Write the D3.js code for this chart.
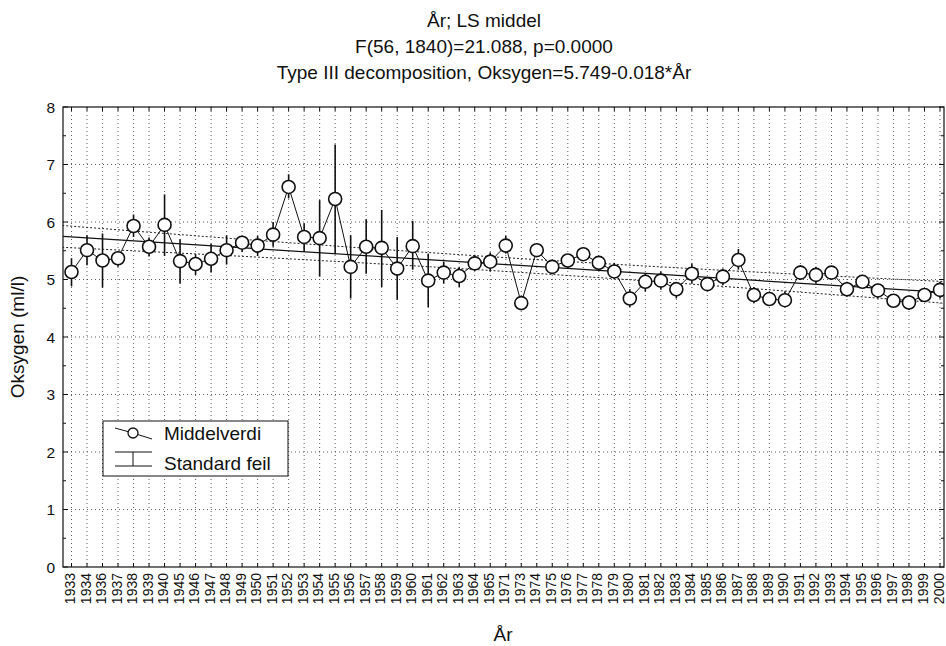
<!DOCTYPE html>
<html><head><meta charset="utf-8">
<script src="https://cdn.jsdelivr.net/npm/d3@7"></script>
<style>body{margin:0;background:#fff}svg{display:block;font-family:"Liberation Sans",Arial,sans-serif}</style>
</head><body><svg id="c" width="946" height="646"></svg>
<script>
const years = ["1933","1934","1936","1937","1938","1939","1940","1945","1946","1947","1948","1949","1950","1951","1952","1953","1954","1955","1956","1957","1958","1959","1960","1961","1962","1963","1964","1965","1971","1973","1974","1975","1976","1977","1978","1979","1980","1981","1982","1983","1984","1985","1986","1987","1988","1989","1990","1991","1992","1993","1994","1995","1996","1997","1998","1999","2000"];
const means = [5.13,5.51,5.33,5.37,5.93,5.57,5.95,5.32,5.27,5.36,5.51,5.64,5.59,5.78,6.61,5.74,5.72,6.40,5.22,5.57,5.55,5.19,5.58,4.98,5.12,5.06,5.28,5.31,5.59,4.59,5.51,5.22,5.33,5.44,5.29,5.14,4.67,4.96,4.98,4.83,5.10,4.92,5.05,5.34,4.73,4.66,4.64,5.12,5.08,5.12,4.83,4.96,4.81,4.63,4.60,4.73,4.82];
const errUpper = [5.37,5.77,5.80,5.48,6.13,5.73,6.48,5.70,5.44,5.62,5.77,5.73,5.76,6.00,6.83,5.98,6.38,7.35,5.77,6.05,6.21,5.74,6.02,5.45,5.31,5.22,5.43,5.47,5.76,4.67,5.60,5.31,5.43,5.53,5.39,5.29,4.83,5.11,5.14,4.96,5.28,5.04,5.19,5.53,4.87,4.77,4.79,5.25,5.22,5.22,4.96,5.08,4.90,4.73,4.70,4.85,4.96];
const errLower = [4.88,5.25,4.86,5.22,5.74,5.40,5.41,4.93,5.08,5.12,5.26,5.48,5.41,5.57,6.41,5.48,5.05,5.44,4.67,5.10,4.87,4.65,5.17,4.52,4.93,4.87,5.15,5.14,5.45,4.48,5.43,5.11,5.19,5.34,5.19,5.05,4.52,4.79,4.82,4.67,4.93,4.81,4.90,5.17,4.59,4.54,4.52,4.99,4.93,5.00,4.70,4.85,4.67,4.52,4.47,4.61,4.67];
// regression line and confidence band, read at a few category positions (index)
const bandIndex = [-0.6, 14, 28, 42, 56.6];
const bandFit   = [5.75, 5.50, 5.26, 5.02, 4.77];
const bandUpper = [5.94, 5.64, 5.38, 5.16, 4.96];
const bandLower = [5.56, 5.36, 5.14, 4.88, 4.58];
const yTicks = [0,1,2,3,4,5,6,7,8];
const titleLines = ["År; LS middel","F(56, 1840)=21.088, p=0.0000","Type III decomposition, Oksygen=5.749-0.018*År"];

const svg = d3.select("#c");
const L = 63, R = 944, T = 107, B = 567;
const x = d3.scalePoint().domain(years).range([71.5, 940]);
const xi = d3.scaleLinear().domain([0, years.length-1]).range([71.5, 940]);
const y = d3.scaleLinear().domain([0, 8]).range([B, T]);

// titles
svg.append("g").selectAll("text").data(titleLines).join("text")
  .attr("x", 484).attr("y", (d,i)=>27+i*26).attr("text-anchor","middle")
  .attr("font-size",19).attr("fill","#111").text(d=>d);

svg.append("clipPath").attr("id","pc").append("rect")
  .attr("x",L).attr("y",T).attr("width",R-L).attr("height",B-T);

// grid
const grid = svg.append("g").attr("stroke","#333").attr("stroke-width",0.8).attr("stroke-dasharray","1,3");
grid.selectAll("line.v").data(years).join("line").attr("class","v")
  .attr("x1",d=>x(d)).attr("x2",d=>x(d)).attr("y1",T).attr("y2",B);
grid.selectAll("line.h").data(yTicks.slice(1,-1)).join("line").attr("class","h")
  .attr("x1",L).attr("x2",R).attr("y1",d=>y(d)).attr("y2",d=>y(d));

// band and fit
const pg = svg.append("g").attr("clip-path","url(#pc)");
const bandLine = d3.line().x(d=>xi(d[0])).y(d=>y(d[1])).curve(d3.curveMonotoneX);
pg.append("path").attr("d",bandLine(d3.zip(bandIndex,bandUpper))).attr("fill","none").attr("stroke","#222").attr("stroke-width",1).attr("stroke-dasharray","2,2");
pg.append("path").attr("d",bandLine(d3.zip(bandIndex,bandLower))).attr("fill","none").attr("stroke","#222").attr("stroke-width",1).attr("stroke-dasharray","2,2");
const fitPts = [[bandIndex[0],bandFit[0]],[bandIndex[bandIndex.length-1],bandFit[bandFit.length-1]]];
pg.append("path").attr("d",d3.line().x(d=>xi(d[0])).y(d=>y(d[1]))(fitPts)).attr("fill","none").attr("stroke","#111").attr("stroke-width",1.2);

// error bars
pg.selectAll("line.err").data(years).join("line").attr("class","err")
  .attr("x1",d=>x(d)).attr("x2",d=>x(d))
  .attr("y1",(d,i)=>y(errUpper[i])).attr("y2",(d,i)=>y(errLower[i]))
  .attr("stroke","#111").attr("stroke-width",1.6);

// mean line
pg.append("path").attr("d",d3.line().x((d,i)=>x(years[i])).y(d=>y(d))(means))
  .attr("fill","none").attr("stroke","#111").attr("stroke-width",1);
pg.selectAll("circle").data(means).join("circle")
  .attr("cx",(d,i)=>x(years[i])).attr("cy",d=>y(d)).attr("r",6.5)
  .attr("fill","#fff").attr("stroke","#111").attr("stroke-width",1.6);

// frame
svg.append("rect").attr("x",L).attr("y",T).attr("width",R-L).attr("height",B-T)
  .attr("fill","none").attr("stroke","#111").attr("stroke-width",1.2);

// axes with inside ticks
const yMinor = d3.range(0, 8.01, 0.5);
const ax = svg.append("g").attr("stroke","#111").attr("stroke-width",1);
ax.selectAll("line.yl").data(yMinor).join("line").attr("class","yl")
  .attr("x1",L).attr("x2",d=>L+(d%1===0?5:3)).attr("y1",d=>y(d)).attr("y2",d=>y(d));
ax.selectAll("line.yr").data(yMinor).join("line").attr("class","yr")
  .attr("x1",R).attr("x2",d=>R-(d%1===0?5:3)).attr("y1",d=>y(d)).attr("y2",d=>y(d));
ax.selectAll("line.xb").data(years).join("line").attr("class","xb")
  .attr("x1",d=>x(d)).attr("x2",d=>x(d)).attr("y1",B).attr("y2",B-4);
ax.selectAll("line.xt").data(years).join("line").attr("class","xt")
  .attr("x1",d=>x(d)).attr("x2",d=>x(d)).attr("y1",T).attr("y2",T+4);

svg.append("g").selectAll("text").data(yTicks).join("text")
  .attr("x",55).attr("y",d=>y(d)+5.5).attr("text-anchor","end").attr("font-size",15.5).attr("fill","#111").text(d=>d);
svg.append("g").selectAll("text").data(years).join("text")
  .attr("transform",d=>`translate(${x(d)+3.5},573) rotate(-90)`).attr("text-anchor","end")
  .attr("font-size",14).attr("fill","#111").text(d=>d);

svg.append("text").attr("x",503).attr("y",641).attr("text-anchor","middle").attr("font-size",19).attr("fill","#111").text("År");
svg.append("text").attr("transform","translate(24,337) rotate(-90)").attr("text-anchor","middle").attr("font-size",19).attr("fill","#111").text("Oksygen (ml/l)");

// legend
const lg = svg.append("g");
lg.append("rect").attr("x",103).attr("y",421).attr("width",185).attr("height",55).attr("fill","#fff").attr("stroke","#111").attr("stroke-width",1);
lg.append("path").attr("d","M115,428 L133,433 L152,439").attr("fill","none").attr("stroke","#111").attr("stroke-width",1);
lg.append("circle").attr("cx",133).attr("cy",433).attr("r",5).attr("fill","#fff").attr("stroke","#111").attr("stroke-width",1.3);
lg.append("path").attr("d","M115,452 L152,452 M133,452 L133,466 M115,466 L152,466").attr("fill","none").attr("stroke","#111").attr("stroke-width",1);
lg.append("text").attr("x",164).attr("y",440).attr("font-size",19).attr("fill","#111").text("Middelverdi");
lg.append("text").attr("x",164).attr("y",470).attr("font-size",19).attr("fill","#111").text("Standard feil");
</script></body></html>
